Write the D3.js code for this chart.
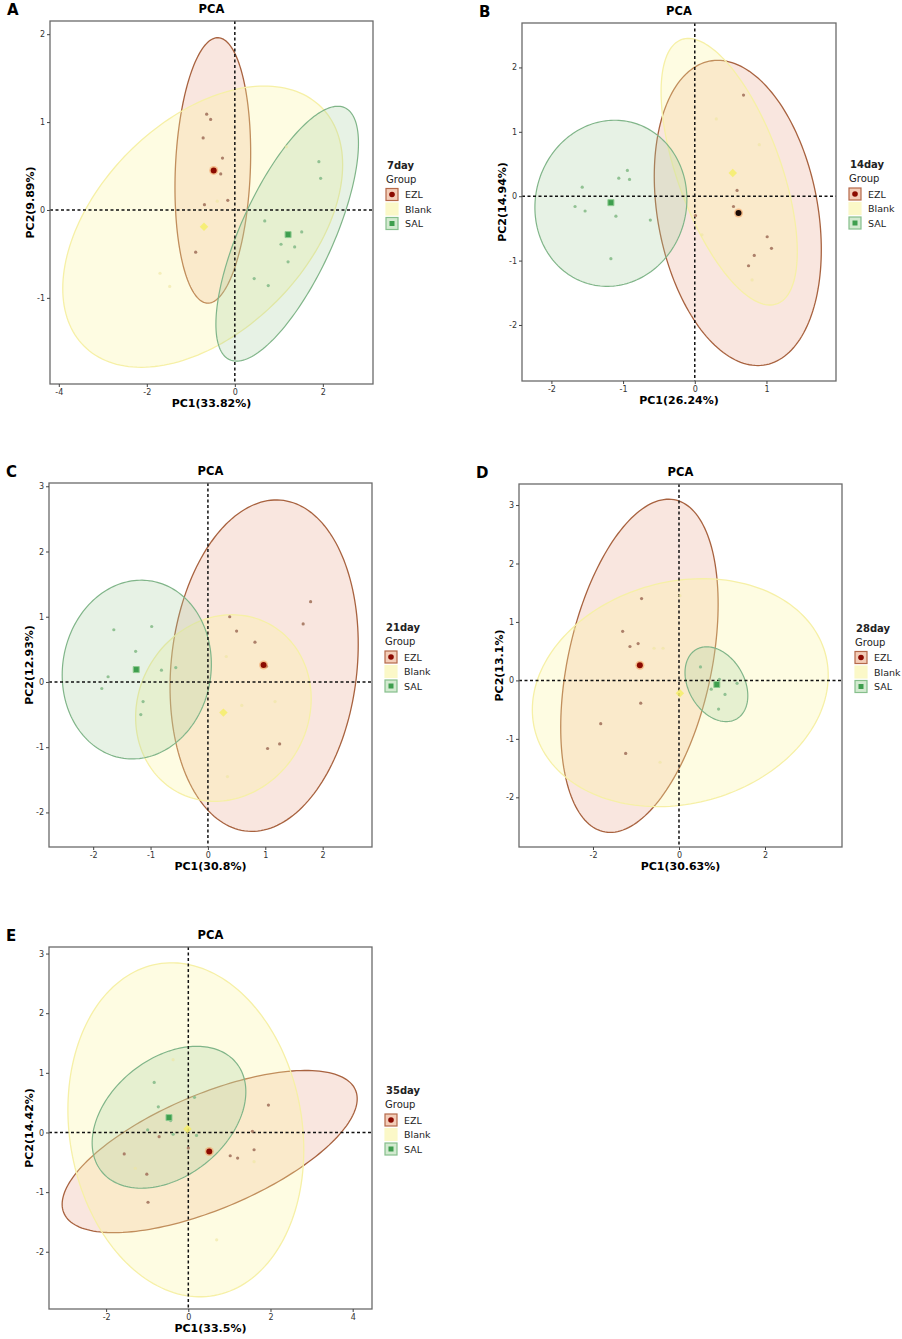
<!DOCTYPE html>
<html>
<head>
<meta charset="utf-8">
<script src="https://cdn.jsdelivr.net/npm/d3@7"></script>
<style>
  body { margin: 0; background: #fff; }
  svg { display: block; }
  text { font-family: "DejaVu Sans", sans-serif; }
</style>
</head>
<body>
<div class="chart"></div>
<script>
// ---- data ----
const panelLetters = ['A', 'B', 'C', 'D', 'E'];
const days = ['7day', '14day', '21day', '28day', '35day'];
const groups = ['EZL', 'Blank', 'SAL'];
const pc1Labels = ['PC1(33.82%)', 'PC1(26.24%)', 'PC1(30.8%)', 'PC1(30.63%)', 'PC1(33.5%)'];
const pc2Labels = ['PC2(9.89%)', 'PC2(14.94%)', 'PC2(12.93%)', 'PC2(13.1%)', 'PC2(14.42%)'];

const xDomains = [[-4.2, 3.14], [-2.41, 1.97], [-2.77, 2.86], [-3.72, 3.79], [-3.39, 4.47]];
const yDomains = [[-1.98, 2.15], [-2.87, 2.69], [-2.53, 3.05], [-2.85, 3.36], [-2.96, 3.11]];
const xTicks = [[-4, -2, 0, 2], [-2, -1, 0, 1], [-2, -1, 0, 1, 2], [-2, 0, 2], [-2, 0, 2, 4]];
const yTicks = [[-1, 0, 1, 2], [-2, -1, 0, 1, 2], [-2, -1, 0, 1, 2, 3], [-2, -1, 0, 1, 2, 3], [-2, -1, 0, 1, 2, 3]];

// confidence ellipses: [centre x, centre y, half x extent, half y extent, correlation]
const ellipseEZL = [[-0.5, 0.45, 0.86, 1.51, 0.13], [0.6, -0.26, 1.165, 2.37, -0.24], [0.98, 0.25, 1.64, 2.54, 0.13], [-0.92, 0.25, 1.83, 2.85, 0.37], [0.52, -0.32, 3.59, 1.36, 0.65]];
const ellipseBlank = [[-0.73, -0.19, 3.18, 1.6, 0.44], [0.48, 0.38, 0.95, 2.07, -0.6], [0.27, -0.4, 1.53, 1.43, 0.1], [0.03, -0.21, 3.44, 1.95, 0.15], [-0.06, 0.045, 2.87, 2.8, -0.12]];
const ellipseSAL = [[1.19, -0.27, 1.62, 1.45, 0.71], [-1.17, -0.11, 1.06, 1.29, 0.05], [-1.24, 0.19, 1.3, 1.37, 0.06], [0.87, -0.065, 0.73, 0.64, -0.31], [-0.47, 0.255, 1.87, 1.19, 0.36]];

// samples
const pointsEZL = [
  [[-0.64, 1.09], [-0.55, 1.03], [-0.72, 0.82], [-0.28, 0.59], [-0.32, 0.41], [-0.69, 0.06], [-0.16, 0.11], [-0.89, -0.48]],
  [[0.68, 1.57], [0.59, 0.09], [0.54, -0.16], [1.01, -0.63], [1.07, -0.81], [0.83, -0.92], [0.75, -1.08], [0.01, -0.3]],
  [[0.38, 1.0], [0.5, 0.78], [0.82, 0.61], [1.79, 1.23], [1.66, 0.89], [1.02, 0.24], [1.25, -0.95], [1.04, -1.02]],
  [[-0.87, 1.4], [-1.31, 0.84], [-0.95, 0.63], [-1.14, 0.58], [-0.89, -0.39], [-1.82, -0.74], [-1.24, -1.25]],
  [[1.95, 0.46], [1.56, 0.02], [1.6, -0.29], [1.02, -0.39], [1.2, -0.43], [-1.56, -0.36], [-1.01, -0.7], [-0.98, -1.17], [0.0, -0.26], [-0.71, -0.07]]
];
const pointsBlank = [
  [[1.17, 0.72], [-1.7, -0.72], [-1.48, -0.87], [-0.4, 0.1]],
  [[0.3, 1.2], [0.9, 0.8], [0.1, -0.6], [0.8, -1.3]],
  [[0.59, -0.36], [1.17, -0.3], [0.34, -1.45], [0.32, 0.39]],
  [[0.02, 1.45], [-0.58, 0.55], [-0.37, 0.55], [-0.44, -1.4], [-2.42, 0.88]],
  [[-1.29, -0.6], [1.6, -0.49], [0.69, -1.8], [-0.37, 1.22]]
];
const pointsSAL = [
  [[1.91, 0.55], [1.95, 0.36], [0.68, -0.125], [1.52, -0.25], [1.05, -0.39], [1.36, -0.42], [1.21, -0.59], [0.44, -0.78], [0.76, -0.86]],
  [[-0.94, 0.4], [-1.06, 0.28], [-0.91, 0.26], [-1.57, 0.14], [-1.67, -0.16], [-1.53, -0.23], [-1.1, -0.31], [-0.62, -0.37], [-1.17, -0.97]],
  [[-1.64, 0.8], [-0.98, 0.85], [-1.26, 0.47], [-0.81, 0.18], [-0.56, 0.22], [-1.74, 0.08], [-1.85, -0.1], [-1.13, -0.3], [-1.17, -0.5]],
  [[0.5, 0.23], [1.35, -0.05], [1.07, -0.24], [0.75, -0.15], [0.92, -0.49], [0.94, 0.02]],
  [[-0.83, 0.84], [-0.73, 0.43], [-0.43, 0.2], [-0.99, 0.045], [-0.37, -0.03], [0.2, -0.05], [0.15, 0.59]]
];

// group centres
const centroidEZL = [[-0.48, 0.45], [0.61, -0.26], [0.97, 0.26], [-0.91, 0.26], [0.51, -0.32]];
const centroidBlank = [[-0.7, -0.19], [0.53, 0.36], [0.27, -0.47], [0.02, -0.22], [-0.02, 0.06]];
const centroidSAL = [[1.21, -0.28], [-1.17, -0.1], [-1.25, 0.19], [0.88, -0.07], [-0.47, 0.25]];

// ---- layout ----
const width = 902;
const height = 1339;
// plot frames: left, top, right, bottom
const frames = [[50, 21, 373, 384], [522, 23, 836, 381], [49, 483, 372, 847], [519, 484, 842, 847], [49, 947, 372, 1309]];

const style = {
  EZL: { fill: '#eaa890', fillOpacity: 0.29, stroke: '#a8623f', sw: 1.3, dot: '#a87a64', key: '#f3cdb8', keyStroke: '#b5694a' },
  Blank: { fill: '#fbf6a0', fillOpacity: 0.3, stroke: '#f6f0a6', sw: 1.3, dot: '#eee6a0', key: '#fbf8c8', keyStroke: '#fbf8c8' },
  SAL: { fill: '#a8d0a0', fillOpacity: 0.28, stroke: '#80b589', sw: 1.2, dot: '#8cbf8e', key: '#d3ead0', keyStroke: '#86bf8c' }
};

const ellipses = { EZL: ellipseEZL, Blank: ellipseBlank, SAL: ellipseSAL };
const points = { EZL: pointsEZL, Blank: pointsBlank, SAL: pointsSAL };

const svg = d3.select('.chart')
  .append('svg')
    .attr('width', width)
    .attr('height', height);

const defs = svg.append('defs');

function ellipsePoints(e) {
  const [cx, cy, ax, ay, r] = e;
  const s = Math.sqrt(1 - r * r);
  return d3.range(0, 2 * Math.PI, Math.PI / 90).map(t => [
    cx + ax * Math.cos(t),
    cy + ay * (r * Math.cos(t) + s * Math.sin(t))
  ]);
}

panelLetters.forEach((letter, i) => {
  const [l, t, r, b] = frames[i];
  const x = d3.scaleLinear().domain(xDomains[i]).range([l, r]);
  const y = d3.scaleLinear().domain(yDomains[i]).range([b, t]);
  const g = svg.append('g');

  defs.append('clipPath').attr('id', 'clip' + i)
    .append('rect').attr('x', l).attr('y', t).attr('width', r - l).attr('height', b - t);

  const plot = g.append('g').attr('clip-path', `url(#clip${i})`);

  const line = d3.line()
    .x(d => x(d[0]))
    .y(d => y(d[1]))
    .curve(d3.curveLinearClosed);

  // ellipses
  groups.forEach(grp => {
    const st = style[grp];
    plot.append('path')
      .attr('d', line(ellipsePoints(ellipses[grp][i])))
      .attr('fill', st.fill)
      .attr('fill-opacity', st.fillOpacity)
      .attr('stroke', st.stroke)
      .attr('stroke-width', st.sw);
  });

  // zero lines
  plot.append('line')
    .attr('x1', l).attr('x2', r)
    .attr('y1', y(0)).attr('y2', y(0))
    .attr('stroke', '#111').attr('stroke-width', 1.5).attr('stroke-dasharray', '3,2.5');
  plot.append('line')
    .attr('x1', x(0)).attr('x2', x(0))
    .attr('y1', t).attr('y2', b)
    .attr('stroke', '#111').attr('stroke-width', 1.5).attr('stroke-dasharray', '3,2.5');

  // sample points
  groups.forEach(grp => {
    plot.selectAll(null)
      .data(points[grp][i])
      .enter().append('circle')
        .attr('cx', d => x(d[0]))
        .attr('cy', d => y(d[1]))
        .attr('r', 1.6)
        .attr('fill', style[grp].dot)
        .attr('opacity', grp === 'Blank' ? 0.6 : 0.95);
  });

  // centroids
  const ce = centroidEZL[i];
  plot.append('circle')
    .attr('cx', x(ce[0])).attr('cy', y(ce[1])).attr('r', 4.5)
    .attr('fill', '#f2a060').attr('opacity', 0.6);
  plot.append('circle')
    .attr('cx', x(ce[0])).attr('cy', y(ce[1])).attr('r', 3)
    .attr('fill', i === 1 ? '#1a0a05' : '#8b0a00');

  const cb = centroidBlank[i];
  plot.append('path')
    .attr('d', d3.symbol(d3.symbolSquare, 36)())
    .attr('transform', `translate(${x(cb[0])},${y(cb[1])}) rotate(45)`)
    .attr('fill', '#f4ee6a').attr('opacity', 0.85);

  const cs = centroidSAL[i];
  plot.append('path')
    .attr('d', d3.symbol(d3.symbolSquare, 36)())
    .attr('transform', `translate(${x(cs[0])},${y(cs[1])})`)
    .attr('fill', '#3e9e4e').attr('stroke', '#8fcb90').attr('stroke-width', 1);

  // frame
  g.append('rect')
    .attr('x', l).attr('y', t).attr('width', r - l).attr('height', b - t)
    .attr('fill', 'none').attr('stroke', '#6a6a6a').attr('stroke-width', 1.3);

  // axes
  const fmt = d => String(d);
  const xAxis = g.append('g')
    .attr('transform', `translate(0,${b})`)
    .call(d3.axisBottom(x).tickValues(xTicks[i]).tickFormat(fmt).tickSize(3).tickPadding(2));
  const yAxis = g.append('g')
    .attr('transform', `translate(${l},0)`)
    .call(d3.axisLeft(y).tickValues(yTicks[i]).tickFormat(fmt).tickSize(3).tickPadding(2));
  [xAxis, yAxis].forEach(ax => {
    ax.select('.domain').remove();
    ax.selectAll('line').attr('stroke', '#444');
    ax.selectAll('text')
      .attr('fill', '#333')
      .style('font-size', '8px')
      .style('font-family', '"DejaVu Sans", sans-serif');
  });

  // titles
  g.append('text')
    .attr('x', (l + r) / 2).attr('y', t - 8)
    .attr('text-anchor', 'middle')
    .style('font-size', '11.5px').style('font-weight', 'bold')
    .text('PCA');
  g.append('text')
    .attr('x', l - 43).attr('y', t - 6)
    .style('font-size', '15px').style('font-weight', 'bold')
    .text(letter);
  g.append('text')
    .attr('x', (l + r) / 2).attr('y', b + 23)
    .attr('text-anchor', 'middle')
    .style('font-size', '11px').style('font-weight', 'bold')
    .text(pc1Labels[i]);
  g.append('text')
    .attr('transform', `translate(${l - 16},${(t + b) / 2}) rotate(-90)`)
    .attr('text-anchor', 'middle')
    .style('font-size', '11px').style('font-weight', 'bold')
    .text(pc2Labels[i]);

  // legend
  const lx = r + 13;
  const cy = (t + b) / 2;
  const legend = g.append('g').attr('transform', `translate(${lx},${cy})`);
  legend.append('text').attr('x', 1).attr('y', -34)
    .style('font-size', '10px').style('font-weight', 'bold').attr('fill', '#222')
    .text(days[i]);
  legend.append('text').attr('x', 0).attr('y', -20)
    .style('font-size', '10px').attr('fill', '#222')
    .text('Group');
  groups.forEach((grp, k) => {
    const ky = -8 + k * 14.5;
    const st = style[grp];
    legend.append('rect')
      .attr('x', 0).attr('y', ky - 6).attr('width', 12).attr('height', 12)
      .attr('fill', st.key).attr('stroke', st.keyStroke).attr('stroke-width', 1.2);
    if (grp === 'EZL') {
      legend.append('circle').attr('cx', 6).attr('cy', ky).attr('r', 2.8).attr('fill', '#8b0a00');
    } else if (grp === 'SAL') {
      legend.append('rect').attr('x', 3.5).attr('y', ky - 2.5).attr('width', 5).attr('height', 5).attr('fill', '#3e9e4e');
    }
    legend.append('text').attr('x', 19).attr('y', ky + 3.5)
      .style('font-size', '9.5px').attr('fill', '#222')
      .text(grp);
  });
});
</script>
</body>
</html>
